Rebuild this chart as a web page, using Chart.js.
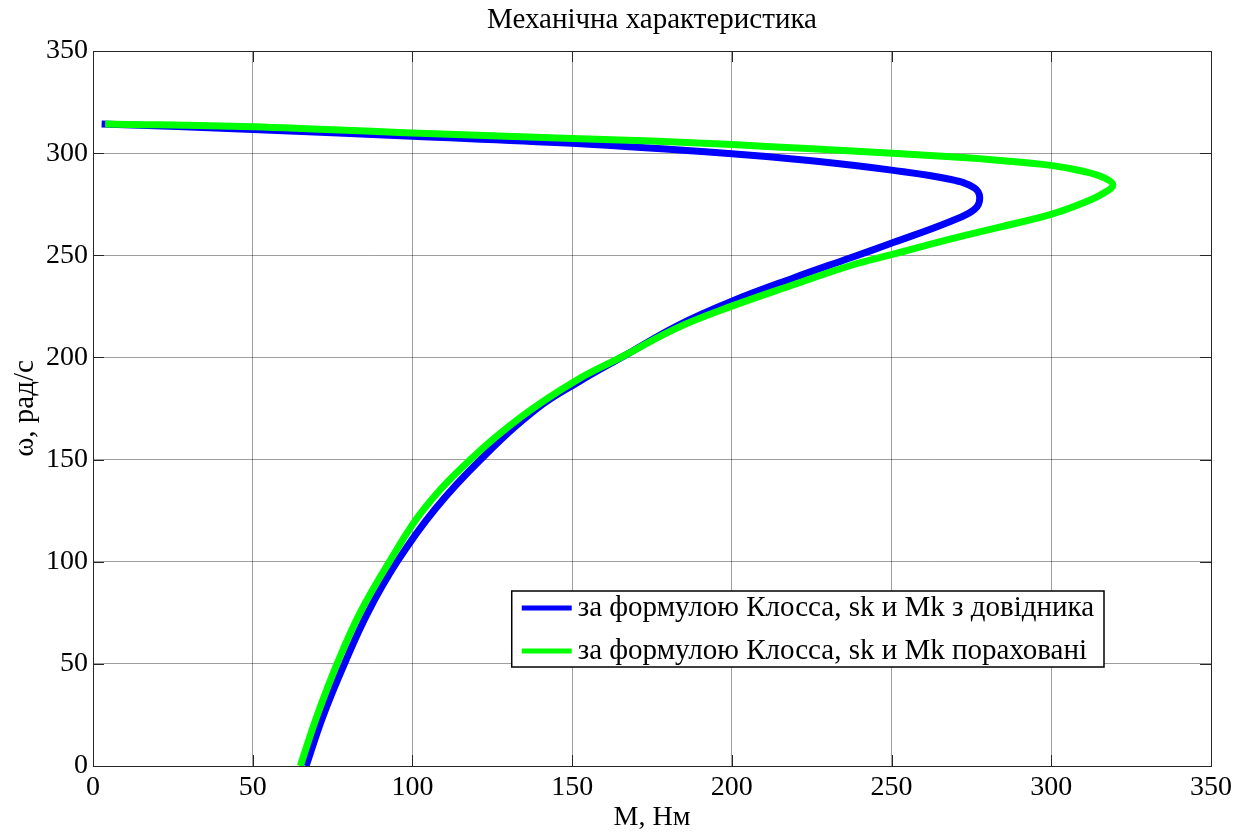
<!DOCTYPE html>
<html>
<head>
<meta charset="utf-8">
<script src="https://cdn.jsdelivr.net/npm/chart.js@4.4.0/dist/chart.umd.min.js"></script>
<style>
  html, body { margin: 0; padding: 0; background: #fff; }
</style>
</head>
<body>
<canvas id="myChart" width="1248" height="832"></canvas>
<script>
// Механічна характеристика: ω(M) за формулою Клосса
const chartTitle = 'Механічна характеристика';
const xTitle = 'М, Нм';
const yTitle = 'ω, рад/с';
const xTicks = [0, 50, 100, 150, 200, 250, 300, 350];
const yTicks = [0, 50, 100, 150, 200, 250, 300, 350];

const seriesNames = [
  'за формулою Клосса, sk и Mk з довідника',
  'за формулою Клосса, sk и Mk пораховані'
];

// sk и Mk з довідника
const torqueRef = [2.7, 50, 100, 150, 200, 225, 250, 268.6, 275.9, 277.6,
  275.9, 268.6, 250.3, 237.2, 219.5, 200, 182.9, 166, 152.5, 139, 121.6, 107, 95.2, 86, 78.7, 72, 66.7];
const speedRef = [314.3, 311.6, 308.3, 304.8, 299.7, 296.3, 291.7, 287.1, 283, 278.1,
  272.4, 266.7, 256.1, 248.8, 239, 227.5, 215.5, 200.5, 188.5, 175, 150.4, 125.6, 100, 75, 50, 24.4, 0];

// sk и Mk пораховані
const torqueCalc = [3.8, 50, 100, 150, 175, 200, 225, 250.3, 268.6, 284.2, 299.9, 310.3, 316.6, 319.3,
  316.6, 310.3, 299.9, 284.2, 268.6, 250.3, 237.2, 219.5, 200, 182.9, 166, 151, 134.3, 118.4, 103.5, 92.8, 83.6, 76.4, 70.1, 64.9];
const speedCalc = [314.3, 312.9, 309.9, 307.2, 305.9, 304.2, 302.1, 300.0, 298.2, 296.4, 294.0, 291.0, 287.9, 284.4,
  280.6, 275.8, 270, 263.9, 258, 250.4, 245, 235.7, 225.1, 214.5, 200.6, 188.5, 171.2, 150.4, 125.6, 100, 75, 50, 24.4, 0];

const toPoints = (xs, ys) => xs.map((x, i) => ({ x: x, y: ys[i] }));

const serif = 'Liberation Serif, Times New Roman, serif';

// рамка осей, внутрішні риски та легенда всередині поля графіка
const axesBox = {
  id: 'axesBox',
  afterDraw(chart) {
    const { ctx, chartArea: a, scales } = chart;
    ctx.save();
    ctx.strokeStyle = '#262626';
    ctx.lineWidth = 1;
    ctx.strokeRect(a.left + 0.5, a.top + 0.5, a.right - a.left, a.bottom - a.top);
    const len = 11;
    ctx.beginPath();
    xTicks.forEach((v) => {
      const px = Math.round(scales.x.getPixelForValue(v)) + 0.5;
      ctx.moveTo(px, a.bottom); ctx.lineTo(px, a.bottom - len);
      ctx.moveTo(px, a.top); ctx.lineTo(px, a.top + len);
    });
    yTicks.forEach((v) => {
      const py = Math.round(scales.y.getPixelForValue(v)) + 0.5;
      ctx.moveTo(a.left, py); ctx.lineTo(a.left + len, py);
      ctx.moveTo(a.right, py); ctx.lineTo(a.right - len, py);
    });
    ctx.stroke();

    // легенда
    ctx.font = '29px ' + serif;
    const widths = chart.data.datasets.map((d) => ctx.measureText(d.label).width);
    const boxW = 10 + 50 + 6 + Math.max(...widths) + 10;
    const boxH = 76;
    const right = a.right - 107;
    const bottom = a.bottom - 99;
    const left = right - boxW;
    const top = bottom - boxH;
    ctx.fillStyle = '#fff';
    ctx.fillRect(left, top, boxW, boxH);
    ctx.strokeStyle = '#000';
    ctx.lineWidth = 1.5;
    ctx.strokeRect(left, top, boxW, boxH);
    ctx.textBaseline = 'middle';
    ctx.textAlign = 'left';
    chart.data.datasets.forEach((d, i) => {
      const y = top + 17 + i * 43;
      ctx.strokeStyle = d.borderColor;
      ctx.lineWidth = 5;
      ctx.beginPath();
      ctx.moveTo(left + 10, y);
      ctx.lineTo(left + 60, y);
      ctx.stroke();
      ctx.fillStyle = '#000';
      ctx.fillText(d.label, left + 66, y);
    });
    ctx.restore();
  }
};

const ctx = document.getElementById('myChart');

new Chart(ctx, {
  type: 'scatter',
  data: {
    datasets: [
      {
        label: seriesNames[0],
        data: toPoints(torqueRef, speedRef),
        showLine: true,
        borderColor: '#0000ff',
        borderWidth: 7,
        pointRadius: 0,
        tension: 0.4,
        order: 1
      },
      {
        label: seriesNames[1],
        data: toPoints(torqueCalc, speedCalc),
        showLine: true,
        borderColor: '#00ff00',
        borderWidth: 7,
        pointRadius: 0,
        tension: 0.4,
        order: 0
      }
    ]
  },
  options: {
    responsive: false,
    animation: false,
    devicePixelRatio: 1,
    layout: { padding: { left: 0, right: 37, top: 0, bottom: 0 } },
    plugins: {
      legend: { display: false },
      tooltip: { enabled: false },
      title: {
        display: true,
        text: chartTitle,
        fullSize: false,
        color: '#000',
        font: { family: serif, size: 29, weight: 'normal', lineHeight: 1.2 },
        padding: { top: 3, bottom: 13.2 }
      }
    },
    scales: {
      x: {
        type: 'linear',
        min: 0,
        max: 350,
        afterBuildTicks: (s) => { s.ticks = xTicks.map((v) => ({ value: v })); },
        afterFit: (s) => { s.height = 66; },
        grid: { color: 'rgba(0,0,0,0.38)', lineWidth: 1, drawTicks: false },
        border: { display: false },
        ticks: { color: '#000', padding: 5, maxRotation: 0, font: { family: serif, size: 28 } },
        title: {
          display: true,
          text: xTitle,
          color: '#000',
          padding: 0,
          font: { family: serif, size: 28, lineHeight: 1.0 }
        }
      },
      y: {
        type: 'linear',
        min: 0,
        max: 350,
        afterBuildTicks: (s) => { s.ticks = yTicks.map((v) => ({ value: v })); },
        afterFit: (s) => { s.width = 93; },
        grid: { color: 'rgba(0,0,0,0.38)', lineWidth: 1, drawTicks: false },
        border: { display: false },
        ticks: { color: '#000', padding: 5, font: { family: serif, size: 28 } },
        title: {
          display: true,
          text: yTitle,
          color: '#000',
          padding: { top: 8, bottom: 0 },
          font: { family: serif, size: 29, lineHeight: 1.2 }
        }
      }
    }
  },
  plugins: [axesBox]
});
</script>
</body>
</html>
